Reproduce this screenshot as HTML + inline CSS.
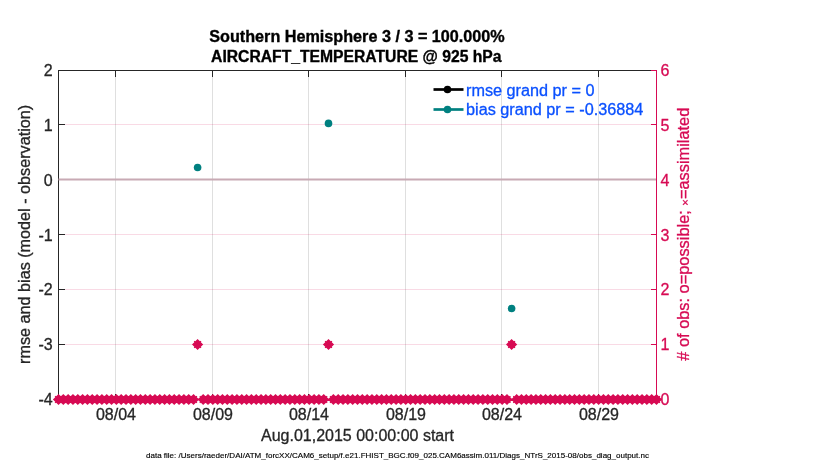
<!DOCTYPE html>
<html lang="en">
<head>
<meta charset="utf-8">
<title>Southern Hemisphere AIRCRAFT_TEMPERATURE @ 925 hPa</title>
<style>
html,body{margin:0;padding:0;background:#fff;}
body{width:830px;height:470px;overflow:hidden;}
svg{display:block;}
text{font-family:"Liberation Sans",Arial,Helvetica,sans-serif;font-size:16px;fill:#262626;stroke:#262626;stroke-width:0.3px;}
.t{font-weight:bold;font-size:16px;fill:#000;stroke:#000;stroke-width:0.35px;text-anchor:middle;}
.ly{text-anchor:end;}
.ry{fill:#D70A53;stroke:#D70A53;}
.xl{text-anchor:middle;}
.lg{fill:#0A50FF;stroke:#0A50FF;}
.fn{font-size:8px;fill:#000;stroke:#000;stroke-width:0.15px;}
</style>
</head>
<body>
<svg width="830" height="470" viewBox="0 0 830 470">
<rect width="830" height="470" fill="#fff"/>

<g stroke="#262626" stroke-opacity="0.15" stroke-width="1" shape-rendering="crispEdges">
<line x1="115.5" y1="70.5" x2="115.5" y2="399.5"/>
<line x1="212.5" y1="70.5" x2="212.5" y2="399.5"/>
<line x1="308.5" y1="70.5" x2="308.5" y2="399.5"/>
<line x1="405.5" y1="70.5" x2="405.5" y2="399.5"/>
<line x1="501.5" y1="70.5" x2="501.5" y2="399.5"/>
<line x1="598.5" y1="70.5" x2="598.5" y2="399.5"/>
</g>
<g stroke="#D70A53" stroke-opacity="0.15" stroke-width="1" shape-rendering="crispEdges">
<line x1="58.5" y1="124.5" x2="656.5" y2="124.5"/>
<line x1="58.5" y1="179.5" x2="656.5" y2="179.5"/>
<line x1="58.5" y1="234.5" x2="656.5" y2="234.5"/>
<line x1="58.5" y1="289.5" x2="656.5" y2="289.5"/>
<line x1="58.5" y1="344.5" x2="656.5" y2="344.5"/>
</g>
<g stroke="#262626" stroke-width="1" fill="none" shape-rendering="crispEdges">
<line x1="58.0" y1="70.5" x2="650.5" y2="70.5"/>
<line x1="58.5" y1="70.0" x2="58.5" y2="400.0"/>
<line x1="58.5" y1="399.5" x2="656.5" y2="399.5"/>
<line x1="115.5" y1="70.5" x2="115.5" y2="76.5"/>
<line x1="115.5" y1="399.5" x2="115.5" y2="393.5"/>
<line x1="212.5" y1="70.5" x2="212.5" y2="76.5"/>
<line x1="212.5" y1="399.5" x2="212.5" y2="393.5"/>
<line x1="308.5" y1="70.5" x2="308.5" y2="76.5"/>
<line x1="308.5" y1="399.5" x2="308.5" y2="393.5"/>
<line x1="405.5" y1="70.5" x2="405.5" y2="76.5"/>
<line x1="405.5" y1="399.5" x2="405.5" y2="393.5"/>
<line x1="501.5" y1="70.5" x2="501.5" y2="76.5"/>
<line x1="501.5" y1="399.5" x2="501.5" y2="393.5"/>
<line x1="598.5" y1="70.5" x2="598.5" y2="76.5"/>
<line x1="598.5" y1="399.5" x2="598.5" y2="393.5"/>
<line x1="58.5" y1="70.5" x2="64.5" y2="70.5"/>
<line x1="58.5" y1="124.5" x2="64.5" y2="124.5"/>
<line x1="58.5" y1="179.5" x2="64.5" y2="179.5"/>
<line x1="58.5" y1="234.5" x2="64.5" y2="234.5"/>
<line x1="58.5" y1="289.5" x2="64.5" y2="289.5"/>
<line x1="58.5" y1="344.5" x2="64.5" y2="344.5"/>
<line x1="58.5" y1="399.5" x2="64.5" y2="399.5"/>
</g>
<g stroke="#D70A53" stroke-width="1" fill="none" shape-rendering="crispEdges">
<line x1="656.5" y1="70.0" x2="656.5" y2="400.0"/>
<line x1="650.5" y1="70.5" x2="656.5" y2="70.5"/>
<line x1="650.5" y1="124.5" x2="656.5" y2="124.5"/>
<line x1="650.5" y1="179.5" x2="656.5" y2="179.5"/>
<line x1="650.5" y1="234.5" x2="656.5" y2="234.5"/>
<line x1="650.5" y1="289.5" x2="656.5" y2="289.5"/>
<line x1="650.5" y1="344.5" x2="656.5" y2="344.5"/>
<line x1="650.5" y1="399.5" x2="656.5" y2="399.5"/>
</g>
<line x1="58.5" y1="179.5" x2="656.0" y2="179.5" stroke="#C8AAB4" stroke-width="2"/>
<path d="M52.90 399.50L58.50 393.90L64.10 399.50L58.50 405.10ZM57.72 399.50L63.32 393.90L68.92 399.50L63.32 405.10ZM62.55 399.50L68.15 393.90L73.75 399.50L68.15 405.10ZM67.37 399.50L72.97 393.90L78.57 399.50L72.97 405.10ZM72.19 399.50L77.79 393.90L83.39 399.50L77.79 405.10ZM77.01 399.50L82.61 393.90L88.21 399.50L82.61 405.10ZM81.84 399.50L87.44 393.90L93.04 399.50L87.44 405.10ZM86.66 399.50L92.26 393.90L97.86 399.50L92.26 405.10ZM91.48 399.50L97.08 393.90L102.68 399.50L97.08 405.10ZM96.30 399.50L101.90 393.90L107.50 399.50L101.90 405.10ZM101.13 399.50L106.73 393.90L112.33 399.50L106.73 405.10ZM105.95 399.50L111.55 393.90L117.15 399.50L111.55 405.10ZM110.77 399.50L116.37 393.90L121.97 399.50L116.37 405.10ZM115.59 399.50L121.19 393.90L126.79 399.50L121.19 405.10ZM120.42 399.50L126.02 393.90L131.62 399.50L126.02 405.10ZM125.24 399.50L130.84 393.90L136.44 399.50L130.84 405.10ZM130.06 399.50L135.66 393.90L141.26 399.50L135.66 405.10ZM134.88 399.50L140.48 393.90L146.08 399.50L140.48 405.10ZM139.71 399.50L145.31 393.90L150.91 399.50L145.31 405.10ZM144.53 399.50L150.13 393.90L155.73 399.50L150.13 405.10ZM149.35 399.50L154.95 393.90L160.55 399.50L154.95 405.10ZM154.17 399.50L159.77 393.90L165.37 399.50L159.77 405.10ZM159.00 399.50L164.60 393.90L170.20 399.50L164.60 405.10ZM163.82 399.50L169.42 393.90L175.02 399.50L169.42 405.10ZM168.64 399.50L174.24 393.90L179.84 399.50L174.24 405.10ZM173.46 399.50L179.06 393.90L184.66 399.50L179.06 405.10ZM178.29 399.50L183.89 393.90L189.49 399.50L183.89 405.10ZM183.11 399.50L188.71 393.90L194.31 399.50L188.71 405.10ZM187.93 399.50L193.53 393.90L199.13 399.50L193.53 405.10ZM197.58 399.50L203.18 393.90L208.78 399.50L203.18 405.10ZM202.40 399.50L208.00 393.90L213.60 399.50L208.00 405.10ZM207.22 399.50L212.82 393.90L218.42 399.50L212.82 405.10ZM212.05 399.50L217.65 393.90L223.25 399.50L217.65 405.10ZM216.87 399.50L222.47 393.90L228.07 399.50L222.47 405.10ZM221.69 399.50L227.29 393.90L232.89 399.50L227.29 405.10ZM226.51 399.50L232.11 393.90L237.71 399.50L232.11 405.10ZM231.34 399.50L236.94 393.90L242.54 399.50L236.94 405.10ZM236.16 399.50L241.76 393.90L247.36 399.50L241.76 405.10ZM240.98 399.50L246.58 393.90L252.18 399.50L246.58 405.10ZM245.80 399.50L251.40 393.90L257.00 399.50L251.40 405.10ZM250.63 399.50L256.23 393.90L261.83 399.50L256.23 405.10ZM255.45 399.50L261.05 393.90L266.65 399.50L261.05 405.10ZM260.27 399.50L265.87 393.90L271.47 399.50L265.87 405.10ZM265.09 399.50L270.69 393.90L276.29 399.50L270.69 405.10ZM269.92 399.50L275.52 393.90L281.12 399.50L275.52 405.10ZM274.74 399.50L280.34 393.90L285.94 399.50L280.34 405.10ZM279.56 399.50L285.16 393.90L290.76 399.50L285.16 405.10ZM284.38 399.50L289.98 393.90L295.58 399.50L289.98 405.10ZM289.21 399.50L294.81 393.90L300.41 399.50L294.81 405.10ZM294.03 399.50L299.63 393.90L305.23 399.50L299.63 405.10ZM298.85 399.50L304.45 393.90L310.05 399.50L304.45 405.10ZM303.67 399.50L309.27 393.90L314.87 399.50L309.27 405.10ZM308.50 399.50L314.10 393.90L319.70 399.50L314.10 405.10ZM313.32 399.50L318.92 393.90L324.52 399.50L318.92 405.10ZM318.14 399.50L323.74 393.90L329.34 399.50L323.74 405.10ZM327.79 399.50L333.39 393.90L338.99 399.50L333.39 405.10ZM332.61 399.50L338.21 393.90L343.81 399.50L338.21 405.10ZM337.43 399.50L343.03 393.90L348.63 399.50L343.03 405.10ZM342.25 399.50L347.85 393.90L353.45 399.50L347.85 405.10ZM347.08 399.50L352.68 393.90L358.28 399.50L352.68 405.10ZM351.90 399.50L357.50 393.90L363.10 399.50L357.50 405.10ZM356.72 399.50L362.32 393.90L367.92 399.50L362.32 405.10ZM361.55 399.50L367.15 393.90L372.75 399.50L367.15 405.10ZM366.37 399.50L371.97 393.90L377.57 399.50L371.97 405.10ZM371.19 399.50L376.79 393.90L382.39 399.50L376.79 405.10ZM376.01 399.50L381.61 393.90L387.21 399.50L381.61 405.10ZM380.84 399.50L386.44 393.90L392.04 399.50L386.44 405.10ZM385.66 399.50L391.26 393.90L396.86 399.50L391.26 405.10ZM390.48 399.50L396.08 393.90L401.68 399.50L396.08 405.10ZM395.30 399.50L400.90 393.90L406.50 399.50L400.90 405.10ZM400.13 399.50L405.73 393.90L411.33 399.50L405.73 405.10ZM404.95 399.50L410.55 393.90L416.15 399.50L410.55 405.10ZM409.77 399.50L415.37 393.90L420.97 399.50L415.37 405.10ZM414.59 399.50L420.19 393.90L425.79 399.50L420.19 405.10ZM419.42 399.50L425.02 393.90L430.62 399.50L425.02 405.10ZM424.24 399.50L429.84 393.90L435.44 399.50L429.84 405.10ZM429.06 399.50L434.66 393.90L440.26 399.50L434.66 405.10ZM433.88 399.50L439.48 393.90L445.08 399.50L439.48 405.10ZM438.71 399.50L444.31 393.90L449.91 399.50L444.31 405.10ZM443.53 399.50L449.13 393.90L454.73 399.50L449.13 405.10ZM448.35 399.50L453.95 393.90L459.55 399.50L453.95 405.10ZM453.17 399.50L458.77 393.90L464.37 399.50L458.77 405.10ZM458.00 399.50L463.60 393.90L469.20 399.50L463.60 405.10ZM462.82 399.50L468.42 393.90L474.02 399.50L468.42 405.10ZM467.64 399.50L473.24 393.90L478.84 399.50L473.24 405.10ZM472.46 399.50L478.06 393.90L483.66 399.50L478.06 405.10ZM477.29 399.50L482.89 393.90L488.49 399.50L482.89 405.10ZM482.11 399.50L487.71 393.90L493.31 399.50L487.71 405.10ZM486.93 399.50L492.53 393.90L498.13 399.50L492.53 405.10ZM491.75 399.50L497.35 393.90L502.95 399.50L497.35 405.10ZM496.58 399.50L502.18 393.90L507.78 399.50L502.18 405.10ZM501.40 399.50L507.00 393.90L512.60 399.50L507.00 405.10ZM511.05 399.50L516.65 393.90L522.25 399.50L516.65 405.10ZM515.87 399.50L521.47 393.90L527.07 399.50L521.47 405.10ZM520.69 399.50L526.29 393.90L531.89 399.50L526.29 405.10ZM525.51 399.50L531.11 393.90L536.71 399.50L531.11 405.10ZM530.34 399.50L535.94 393.90L541.54 399.50L535.94 405.10ZM535.16 399.50L540.76 393.90L546.36 399.50L540.76 405.10ZM539.98 399.50L545.58 393.90L551.18 399.50L545.58 405.10ZM544.80 399.50L550.40 393.90L556.00 399.50L550.40 405.10ZM549.63 399.50L555.23 393.90L560.83 399.50L555.23 405.10ZM554.45 399.50L560.05 393.90L565.65 399.50L560.05 405.10ZM559.27 399.50L564.87 393.90L570.47 399.50L564.87 405.10ZM564.09 399.50L569.69 393.90L575.29 399.50L569.69 405.10ZM568.92 399.50L574.52 393.90L580.12 399.50L574.52 405.10ZM573.74 399.50L579.34 393.90L584.94 399.50L579.34 405.10ZM578.56 399.50L584.16 393.90L589.76 399.50L584.16 405.10ZM583.38 399.50L588.98 393.90L594.58 399.50L588.98 405.10ZM588.21 399.50L593.81 393.90L599.41 399.50L593.81 405.10ZM593.03 399.50L598.63 393.90L604.23 399.50L598.63 405.10ZM597.85 399.50L603.45 393.90L609.05 399.50L603.45 405.10ZM602.67 399.50L608.27 393.90L613.87 399.50L608.27 405.10ZM607.50 399.50L613.10 393.90L618.70 399.50L613.10 405.10ZM612.32 399.50L617.92 393.90L623.52 399.50L617.92 405.10ZM617.14 399.50L622.74 393.90L628.34 399.50L622.74 405.10ZM621.96 399.50L627.56 393.90L633.16 399.50L627.56 405.10ZM626.79 399.50L632.39 393.90L637.99 399.50L632.39 405.10ZM631.61 399.50L637.21 393.90L642.81 399.50L637.21 405.10ZM636.43 399.50L642.03 393.90L647.63 399.50L642.03 405.10ZM641.25 399.50L646.85 393.90L652.45 399.50L646.85 405.10ZM646.08 399.50L651.68 393.90L657.28 399.50L651.68 405.10ZM650.90 399.50L656.50 393.90L662.10 399.50L656.50 405.10ZM192.00 344.50L197.60 338.90L203.20 344.50L197.60 350.10ZM322.90 344.50L328.50 338.90L334.10 344.50L328.50 350.10ZM506.00 344.50L511.60 338.90L517.20 344.50L511.60 350.10Z" fill="#D70A53"/>
<path d="M55.10 396.10L61.90 402.90M55.10 402.90L61.90 396.10M59.92 396.10L66.72 402.90M59.92 402.90L66.72 396.10M64.75 396.10L71.55 402.90M64.75 402.90L71.55 396.10M69.57 396.10L76.37 402.90M69.57 402.90L76.37 396.10M74.39 396.10L81.19 402.90M74.39 402.90L81.19 396.10M79.21 396.10L86.01 402.90M79.21 402.90L86.01 396.10M84.04 396.10L90.84 402.90M84.04 402.90L90.84 396.10M88.86 396.10L95.66 402.90M88.86 402.90L95.66 396.10M93.68 396.10L100.48 402.90M93.68 402.90L100.48 396.10M98.50 396.10L105.30 402.90M98.50 402.90L105.30 396.10M103.33 396.10L110.13 402.90M103.33 402.90L110.13 396.10M108.15 396.10L114.95 402.90M108.15 402.90L114.95 396.10M112.97 396.10L119.77 402.90M112.97 402.90L119.77 396.10M117.79 396.10L124.59 402.90M117.79 402.90L124.59 396.10M122.62 396.10L129.42 402.90M122.62 402.90L129.42 396.10M127.44 396.10L134.24 402.90M127.44 402.90L134.24 396.10M132.26 396.10L139.06 402.90M132.26 402.90L139.06 396.10M137.08 396.10L143.88 402.90M137.08 402.90L143.88 396.10M141.91 396.10L148.71 402.90M141.91 402.90L148.71 396.10M146.73 396.10L153.53 402.90M146.73 402.90L153.53 396.10M151.55 396.10L158.35 402.90M151.55 402.90L158.35 396.10M156.37 396.10L163.17 402.90M156.37 402.90L163.17 396.10M161.20 396.10L168.00 402.90M161.20 402.90L168.00 396.10M166.02 396.10L172.82 402.90M166.02 402.90L172.82 396.10M170.84 396.10L177.64 402.90M170.84 402.90L177.64 396.10M175.66 396.10L182.46 402.90M175.66 402.90L182.46 396.10M180.49 396.10L187.29 402.90M180.49 402.90L187.29 396.10M185.31 396.10L192.11 402.90M185.31 402.90L192.11 396.10M190.13 396.10L196.93 402.90M190.13 402.90L196.93 396.10M199.78 396.10L206.58 402.90M199.78 402.90L206.58 396.10M204.60 396.10L211.40 402.90M204.60 402.90L211.40 396.10M209.42 396.10L216.22 402.90M209.42 402.90L216.22 396.10M214.25 396.10L221.05 402.90M214.25 402.90L221.05 396.10M219.07 396.10L225.87 402.90M219.07 402.90L225.87 396.10M223.89 396.10L230.69 402.90M223.89 402.90L230.69 396.10M228.71 396.10L235.51 402.90M228.71 402.90L235.51 396.10M233.54 396.10L240.34 402.90M233.54 402.90L240.34 396.10M238.36 396.10L245.16 402.90M238.36 402.90L245.16 396.10M243.18 396.10L249.98 402.90M243.18 402.90L249.98 396.10M248.00 396.10L254.80 402.90M248.00 402.90L254.80 396.10M252.83 396.10L259.63 402.90M252.83 402.90L259.63 396.10M257.65 396.10L264.45 402.90M257.65 402.90L264.45 396.10M262.47 396.10L269.27 402.90M262.47 402.90L269.27 396.10M267.29 396.10L274.09 402.90M267.29 402.90L274.09 396.10M272.12 396.10L278.92 402.90M272.12 402.90L278.92 396.10M276.94 396.10L283.74 402.90M276.94 402.90L283.74 396.10M281.76 396.10L288.56 402.90M281.76 402.90L288.56 396.10M286.58 396.10L293.38 402.90M286.58 402.90L293.38 396.10M291.41 396.10L298.21 402.90M291.41 402.90L298.21 396.10M296.23 396.10L303.03 402.90M296.23 402.90L303.03 396.10M301.05 396.10L307.85 402.90M301.05 402.90L307.85 396.10M305.87 396.10L312.67 402.90M305.87 402.90L312.67 396.10M310.70 396.10L317.50 402.90M310.70 402.90L317.50 396.10M315.52 396.10L322.32 402.90M315.52 402.90L322.32 396.10M320.34 396.10L327.14 402.90M320.34 402.90L327.14 396.10M329.99 396.10L336.79 402.90M329.99 402.90L336.79 396.10M334.81 396.10L341.61 402.90M334.81 402.90L341.61 396.10M339.63 396.10L346.43 402.90M339.63 402.90L346.43 396.10M344.45 396.10L351.25 402.90M344.45 402.90L351.25 396.10M349.28 396.10L356.08 402.90M349.28 402.90L356.08 396.10M354.10 396.10L360.90 402.90M354.10 402.90L360.90 396.10M358.92 396.10L365.72 402.90M358.92 402.90L365.72 396.10M363.75 396.10L370.55 402.90M363.75 402.90L370.55 396.10M368.57 396.10L375.37 402.90M368.57 402.90L375.37 396.10M373.39 396.10L380.19 402.90M373.39 402.90L380.19 396.10M378.21 396.10L385.01 402.90M378.21 402.90L385.01 396.10M383.04 396.10L389.84 402.90M383.04 402.90L389.84 396.10M387.86 396.10L394.66 402.90M387.86 402.90L394.66 396.10M392.68 396.10L399.48 402.90M392.68 402.90L399.48 396.10M397.50 396.10L404.30 402.90M397.50 402.90L404.30 396.10M402.33 396.10L409.13 402.90M402.33 402.90L409.13 396.10M407.15 396.10L413.95 402.90M407.15 402.90L413.95 396.10M411.97 396.10L418.77 402.90M411.97 402.90L418.77 396.10M416.79 396.10L423.59 402.90M416.79 402.90L423.59 396.10M421.62 396.10L428.42 402.90M421.62 402.90L428.42 396.10M426.44 396.10L433.24 402.90M426.44 402.90L433.24 396.10M431.26 396.10L438.06 402.90M431.26 402.90L438.06 396.10M436.08 396.10L442.88 402.90M436.08 402.90L442.88 396.10M440.91 396.10L447.71 402.90M440.91 402.90L447.71 396.10M445.73 396.10L452.53 402.90M445.73 402.90L452.53 396.10M450.55 396.10L457.35 402.90M450.55 402.90L457.35 396.10M455.37 396.10L462.17 402.90M455.37 402.90L462.17 396.10M460.20 396.10L467.00 402.90M460.20 402.90L467.00 396.10M465.02 396.10L471.82 402.90M465.02 402.90L471.82 396.10M469.84 396.10L476.64 402.90M469.84 402.90L476.64 396.10M474.66 396.10L481.46 402.90M474.66 402.90L481.46 396.10M479.49 396.10L486.29 402.90M479.49 402.90L486.29 396.10M484.31 396.10L491.11 402.90M484.31 402.90L491.11 396.10M489.13 396.10L495.93 402.90M489.13 402.90L495.93 396.10M493.95 396.10L500.75 402.90M493.95 402.90L500.75 396.10M498.78 396.10L505.58 402.90M498.78 402.90L505.58 396.10M503.60 396.10L510.40 402.90M503.60 402.90L510.40 396.10M513.25 396.10L520.05 402.90M513.25 402.90L520.05 396.10M518.07 396.10L524.87 402.90M518.07 402.90L524.87 396.10M522.89 396.10L529.69 402.90M522.89 402.90L529.69 396.10M527.71 396.10L534.51 402.90M527.71 402.90L534.51 396.10M532.54 396.10L539.34 402.90M532.54 402.90L539.34 396.10M537.36 396.10L544.16 402.90M537.36 402.90L544.16 396.10M542.18 396.10L548.98 402.90M542.18 402.90L548.98 396.10M547.00 396.10L553.80 402.90M547.00 402.90L553.80 396.10M551.83 396.10L558.63 402.90M551.83 402.90L558.63 396.10M556.65 396.10L563.45 402.90M556.65 402.90L563.45 396.10M561.47 396.10L568.27 402.90M561.47 402.90L568.27 396.10M566.29 396.10L573.09 402.90M566.29 402.90L573.09 396.10M571.12 396.10L577.92 402.90M571.12 402.90L577.92 396.10M575.94 396.10L582.74 402.90M575.94 402.90L582.74 396.10M580.76 396.10L587.56 402.90M580.76 402.90L587.56 396.10M585.58 396.10L592.38 402.90M585.58 402.90L592.38 396.10M590.41 396.10L597.21 402.90M590.41 402.90L597.21 396.10M595.23 396.10L602.03 402.90M595.23 402.90L602.03 396.10M600.05 396.10L606.85 402.90M600.05 402.90L606.85 396.10M604.87 396.10L611.67 402.90M604.87 402.90L611.67 396.10M609.70 396.10L616.50 402.90M609.70 402.90L616.50 396.10M614.52 396.10L621.32 402.90M614.52 402.90L621.32 396.10M619.34 396.10L626.14 402.90M619.34 402.90L626.14 396.10M624.16 396.10L630.96 402.90M624.16 402.90L630.96 396.10M628.99 396.10L635.79 402.90M628.99 402.90L635.79 396.10M633.81 396.10L640.61 402.90M633.81 402.90L640.61 396.10M638.63 396.10L645.43 402.90M638.63 402.90L645.43 396.10M643.45 396.10L650.25 402.90M643.45 402.90L650.25 396.10M648.28 396.10L655.08 402.90M648.28 402.90L655.08 396.10M653.10 396.10L659.90 402.90M653.10 402.90L659.90 396.10M194.20 341.10L201.00 347.90M194.20 347.90L201.00 341.10M325.10 341.10L331.90 347.90M325.10 347.90L331.90 341.10M508.20 341.10L515.00 347.90M508.20 347.90L515.00 341.10" fill="none" stroke="#D70A53" stroke-width="1.3"/>
<circle cx="197.6" cy="167.5" r="3.8" fill="#008080"/>
<circle cx="328.5" cy="123.4" r="3.8" fill="#008080"/>
<circle cx="511.6" cy="308.5" r="3.8" fill="#008080"/>
<line x1="433.5" y1="89.5" x2="463.5" y2="89.5" stroke="#000" stroke-width="2.7"/><circle cx="447.5" cy="89.5" r="3.8" fill="#000"/>
<line x1="433.5" y1="109.5" x2="463.5" y2="109.5" stroke="#008080" stroke-width="2.7"/><circle cx="447.5" cy="109.5" r="3.8" fill="#008080"/>
<text class="lg" x="466" y="95.5" textLength="128.5" lengthAdjust="spacingAndGlyphs">rmse grand pr = 0</text>
<text class="lg" x="466" y="115" textLength="177.3" lengthAdjust="spacingAndGlyphs">bias grand pr = -0.36884</text>
<text class="t" x="357" y="41.9" textLength="295.5" lengthAdjust="spacingAndGlyphs">Southern Hemisphere 3 / 3 = 100.000%</text>
<text class="t" x="356.3" y="61.7" textLength="290.5" lengthAdjust="spacingAndGlyphs">AIRCRAFT_TEMPERATURE @ 925 hPa</text>
<text class="ly" x="52.7" y="76.10">2</text>
<text class="ly" x="52.7" y="130.93">1</text>
<text class="ly" x="52.7" y="185.76">0</text>
<text class="ly" x="52.7" y="240.59">-1</text>
<text class="ly" x="52.7" y="295.42">-2</text>
<text class="ly" x="52.7" y="350.25">-3</text>
<text class="ly" x="52.7" y="405.08">-4</text>
<text class="ry" x="660.5" y="76.10">6</text>
<text class="ry" x="660.5" y="130.93">5</text>
<text class="ry" x="660.5" y="185.76">4</text>
<text class="ry" x="660.5" y="240.59">3</text>
<text class="ry" x="660.5" y="295.42">2</text>
<text class="ry" x="660.5" y="350.25">1</text>
<text class="ry" x="660.5" y="405.08">0</text>
<text class="xl" x="116.0" y="420">08/04</text>
<text class="xl" x="213.0" y="420">08/09</text>
<text class="xl" x="309.0" y="420">08/14</text>
<text class="xl" x="406.0" y="420">08/19</text>
<text class="xl" x="502.0" y="420">08/24</text>
<text class="xl" x="599.0" y="420">08/29</text>
<text class="xl" x="357.5" y="440.7">Aug.01,2015 00:00:00 start</text>
<text x="30.3" y="234.4" text-anchor="middle" textLength="259" lengthAdjust="spacingAndGlyphs" transform="rotate(-90 30.3 234.4)">rmse and bias (model - observation)</text>
<text class="ry" x="689.3" y="234.2" text-anchor="middle" textLength="253" lengthAdjust="spacingAndGlyphs" transform="rotate(-90 689.3 234.2)"># of obs: o=possible; <tspan font-size="11px">×</tspan>=assimilated</text>
<text class="fn" x="146" y="457.6" textLength="503" lengthAdjust="spacingAndGlyphs">data file: /Users/raeder/DAI/ATM_forcXX/CAM6_setup/f.e21.FHIST_BGC.f09_025.CAM6assim.011/Diags_NTrS_2015-08/obs_diag_output.nc</text>
</svg>
</body>
</html>
